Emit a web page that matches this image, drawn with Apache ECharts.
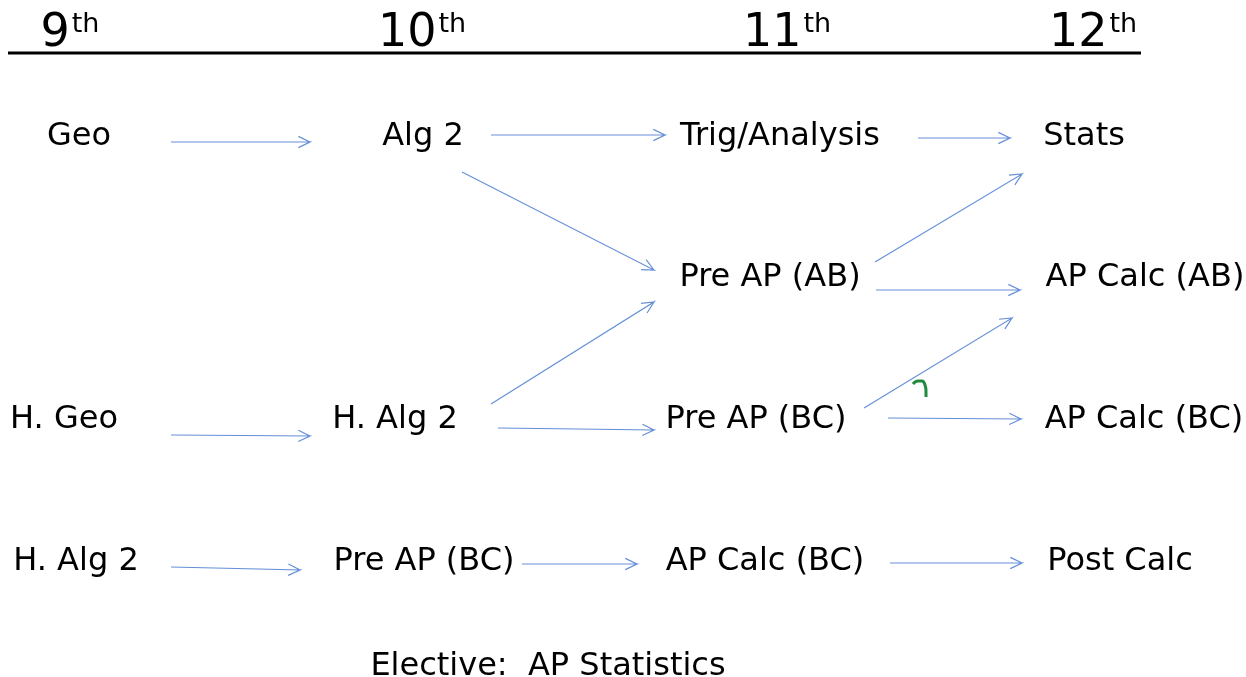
<!DOCTYPE html>
<html style="height: 100%">
<head>
    <meta charset="utf-8">
</head>
<body style="height: 100%; margin: 0; background: #fff">
<div id="container" style="width:1246px; height:677px"></div>
<script type="text/javascript" src="https://cdn.jsdelivr.net/npm/echarts@6/dist/echarts.min.js"></script>
<script type="text/javascript">

    // grade headers: [grade number, center x]
    var grades = [['9', 70], ['10', 422], ['11', 787], ['12', 1093]];

    // courses: [name, center x, center y]
    var courses = [
        ['Geo', 79, 137], ['Alg 2', 423, 137], ['Trig/Analysis', 780, 137], ['Stats', 1084, 137],
        ['Pre AP (AB)', 770, 278], ['AP Calc (AB)', 1145, 278],
        ['H. Geo', 64, 420], ['H. Alg 2', 395, 420], ['Pre AP (BC)', 756, 420], ['AP Calc (BC)', 1144, 420],
        ['H. Alg 2', 76, 562], ['Pre AP (BC)', 424, 562], ['AP Calc (BC)', 765, 562], ['Post Calc', 1120, 562],
        ['Elective:  AP Statistics', 548, 667]
    ];

    // arrows: [x1, y1, x2, y2]
    var arrows = [
        [171, 142, 310, 142],
        [491, 135, 665, 135],
        [918, 138, 1010, 138],
        [462, 172, 654, 270],
        [875, 262, 1022, 174],
        [876, 290, 1020, 290],
        [171, 435, 310, 436],
        [491, 404, 654, 302],
        [498, 428, 654, 430],
        [864, 408, 1012, 318],
        [888, 418, 1021, 419],
        [171, 567, 300, 570],
        [522, 564, 637, 564],
        [890, 563, 1022, 563]
    ];

    // header rule
    var rule = [[8, 53], [1141, 53]];

    // green pen mark
    var penMark = [[913, 384], [918, 381], [922, 381], [925, 385], [926, 391], [926, 397]];

    var dom = document.getElementById('container');
    var myChart = echarts.init(dom);

    var option = {
        animation: false,
        grid: {left: 0, right: 0, top: 0, bottom: 0},
        xAxis: {type: 'value', min: 0, max: 1246, show: false},
        yAxis: {type: 'value', min: 0, max: 677, inverse: true, show: false},
        series: [
            {
                type: 'line',
                data: rule,
                symbol: 'none',
                lineStyle: {color: '#000', width: 3}
            },
            {
                type: 'line',
                data: penMark,
                symbol: 'none',
                smooth: true,
                lineStyle: {color: '#1e8a3c', width: 3}
            },
            {
                type: 'scatter',
                data: grades.map(function (g) {
                    return {value: [g[1], 34], name: g[0]};
                }),
                symbolSize: 0,
                itemStyle: {opacity: 1},
                label: {
                    show: true,
                    position: 'inside',
                    color: '#000',
                    textBorderWidth: 0,
                    formatter: function (p) {
                        return '{n|' + p.name + '}{s|th}';
                    },
                    rich: {
                        n: {fontFamily: 'DejaVu Sans', fontSize: 46, color: '#000', lineHeight: 46},
                        s: {fontFamily: 'DejaVu Sans', fontSize: 27, color: '#000', verticalAlign: 'top', lineHeight: 27, padding: [0, 0, 17, 2]}
                    }
                }
            },
            {
                type: 'scatter',
                data: courses.map(function (c) {
                    return {value: [c[1], c[2]], name: c[0]};
                }),
                symbolSize: 0,
                itemStyle: {opacity: 1},
                label: {
                    show: true,
                    position: 'inside',
                    formatter: '{b}',
                    fontFamily: 'DejaVu Sans',
                    fontSize: 32,
                    color: '#000',
                    textBorderWidth: 0
                }
            },
            {
                type: 'custom',
                data: arrows,
                renderItem: function (params, api) {
                    var a = api.coord([api.value(0), api.value(1)]);
                    var b = api.coord([api.value(2), api.value(3)]);
                    var ang = Math.atan2(b[1] - a[1], b[0] - a[0]);
                    var len = 13, spread = 0.45;
                    var h1 = [b[0] - len * Math.cos(ang - spread), b[1] - len * Math.sin(ang - spread)];
                    var h2 = [b[0] - len * Math.cos(ang + spread), b[1] - len * Math.sin(ang + spread)];
                    return {
                        type: 'polyline',
                        shape: {points: [a, b, h1, b, h2]},
                        style: {stroke: '#6690d8', lineWidth: 1.2, fill: null}
                    };
                }
            }
        ]
    };

    myChart.setOption(option);

</script>
</body>
</html>
